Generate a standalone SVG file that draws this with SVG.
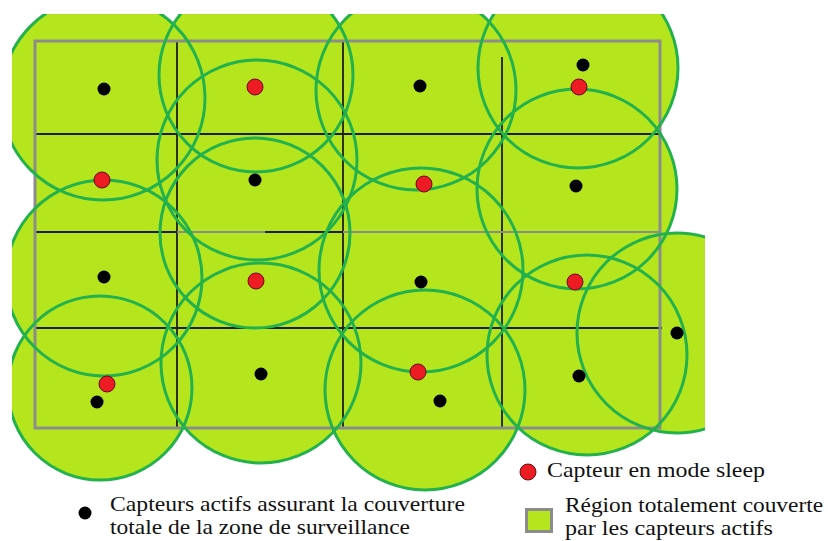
<svg xmlns="http://www.w3.org/2000/svg" xmlns:xlink="http://www.w3.org/1999/xlink" width="828" height="541" viewBox="0 0 828 541">
<style>
  .cf { fill: #b5e61d; stroke: none; }
  .cs { fill: none; stroke: #22b14c; stroke-width: 3; }
  .gk { stroke: #1e1e1e; stroke-width: 1.8; }
  .gg { stroke: #8c8c8c; stroke-width: 1.8; }
  .act { fill: #000; }
  .slp { fill: #ed1c24; stroke: #6a0a0a; stroke-width: 1; }
  .lbl { font-family: "Liberation Serif", "Times New Roman", serif; font-size: 22px; fill: #111; }
</style>
<defs>
  <clipPath id="clip"><rect x="12" y="14" width="693" height="527"/></clipPath>
  <circle id="c1" cx="103" cy="98" r="102"/>
  <circle id="c2" cx="256" cy="75" r="97"/>
  <circle id="c3" cx="416" cy="90" r="100"/>
  <circle id="c4" cx="578" cy="68" r="100"/>
  <circle id="c5" cx="257" cy="160" r="100"/>
  <circle id="c6" cx="577" cy="189" r="100"/>
  <circle id="c7" cx="255" cy="233" r="95"/>
  <circle id="c8" cx="104" cy="278" r="98"/>
  <circle id="c9" cx="421" cy="270" r="102"/>
  <circle id="c10" cx="100" cy="388" r="92"/>
  <circle id="c11" cx="261" cy="363" r="100"/>
  <circle id="c12" cx="425" cy="390" r="100"/>
  <circle id="c13" cx="587" cy="355" r="100"/>
  <circle id="c14" cx="677" cy="333" r="100"/>
</defs>

<g id="coverage" clip-path="url(#clip)">
  <g id="coverage-fill" class="cf">
    <use xlink:href="#c1"/><use xlink:href="#c2"/><use xlink:href="#c3"/><use xlink:href="#c4"/>
    <use xlink:href="#c5"/><use xlink:href="#c6"/><use xlink:href="#c7"/><use xlink:href="#c8"/>
    <use xlink:href="#c9"/><use xlink:href="#c10"/><use xlink:href="#c11"/><use xlink:href="#c12"/>
    <use xlink:href="#c13"/><use xlink:href="#c14"/>
  </g>
  <rect x="35" y="41" width="625" height="387" fill="#b5e61d"/>
  <g id="grid">
    <line class="gk" x1="177" y1="42" x2="177" y2="428"/>
    <line class="gk" x1="343" y1="42" x2="343" y2="428"/>
    <line class="gk" x1="502" y1="57" x2="502" y2="428"/>
    <line class="gk" x1="35" y1="134" x2="662" y2="134"/>
    <line class="gk" x1="35" y1="232" x2="177" y2="232"/>
    <line class="gg" x1="177" y1="232" x2="265" y2="232"/>
    <line class="gk" x1="265" y1="232" x2="343" y2="232"/>
    <line class="gg" x1="343" y1="232" x2="660" y2="232"/>
    <line class="gk" x1="35" y1="328" x2="662" y2="328"/>
  </g>
  <rect id="region" x="35" y="41" width="625" height="387" fill="none" stroke="#8c8c8c" stroke-width="3"/>
  <g id="coverage-outline" class="cs">
    <use xlink:href="#c1"/><use xlink:href="#c2"/><use xlink:href="#c3"/><use xlink:href="#c4"/>
    <use xlink:href="#c5"/><use xlink:href="#c6"/><use xlink:href="#c7"/><use xlink:href="#c8"/>
    <use xlink:href="#c9"/><use xlink:href="#c10"/><use xlink:href="#c11"/><use xlink:href="#c12"/>
    <use xlink:href="#c13"/><use xlink:href="#c14"/>
  </g>
</g>

<g id="active-sensors" class="act">
  <circle cx="104" cy="89" r="6.5"/>
  <circle cx="420" cy="86" r="6.5"/>
  <circle cx="583" cy="65" r="6.5"/>
  <circle cx="255" cy="180" r="6.5"/>
  <circle cx="576" cy="186" r="6.5"/>
  <circle cx="104" cy="277" r="6.5"/>
  <circle cx="421" cy="282" r="6.5"/>
  <circle cx="97" cy="402" r="6.5"/>
  <circle cx="261" cy="374" r="6.5"/>
  <circle cx="440" cy="401" r="6.5"/>
  <circle cx="579" cy="376" r="6.5"/>
  <circle cx="677" cy="333" r="6.5"/>
</g>
<g id="sleep-sensors" class="slp">
  <circle cx="255" cy="87" r="8"/>
  <circle cx="579" cy="87" r="8"/>
  <circle cx="102" cy="180" r="8"/>
  <circle cx="424" cy="184" r="8"/>
  <circle cx="256" cy="281" r="8"/>
  <circle cx="575" cy="282" r="8"/>
  <circle cx="107" cy="384" r="8"/>
  <circle cx="418" cy="372" r="8"/>
</g>

<g id="legend">
  <g id="legend-active">
    <circle class="act" cx="85" cy="513" r="6.5"/>
    <text class="lbl" x="110" y="511" textLength="355" lengthAdjust="spacingAndGlyphs">Capteurs actifs assurant la couverture</text>
    <text class="lbl" x="110" y="534" textLength="300" lengthAdjust="spacingAndGlyphs">totale de la zone de surveillance</text>
  </g>
  <g id="legend-sleep">
    <circle class="slp" cx="528" cy="472" r="8"/>
    <text class="lbl" x="547" y="477" textLength="218" lengthAdjust="spacingAndGlyphs">Capteur en mode sleep</text>
  </g>
  <g id="legend-region">
    <rect x="526.5" y="509.5" width="25" height="22" fill="#b5e61d" stroke="#8c8c8c" stroke-width="3"/>
    <text class="lbl" x="565" y="512" textLength="258" lengthAdjust="spacingAndGlyphs">Région totalement couverte</text>
    <text class="lbl" x="565" y="535" textLength="208" lengthAdjust="spacingAndGlyphs">par les capteurs actifs</text>
  </g>
</g>
</svg>
